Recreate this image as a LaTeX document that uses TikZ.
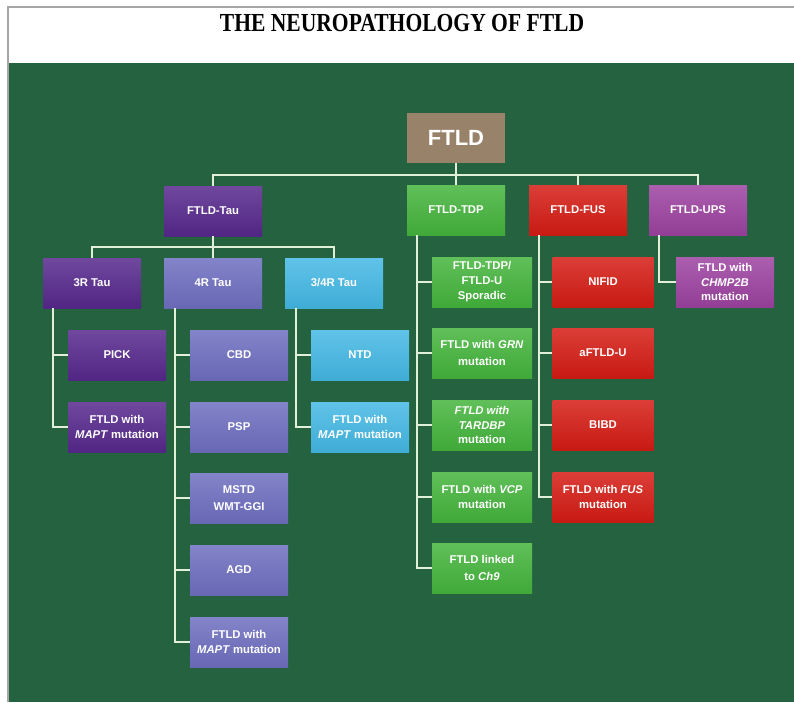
\documentclass[tikz,border=0pt]{standalone}
\usepackage{fontspec}
\setmainfont{Liberation Serif}
\setsansfont{Liberation Sans}
\definecolor{board}{RGB}{36,98,64}
\definecolor{wire}{RGB}{226,240,218}
\definecolor{rootcol}{RGB}{152,130,106}
\definecolor{taucol}{RGB}{86,40,140}
\definecolor{fourcol}{RGB}{110,110,192}
\definecolor{mixcol}{RGB}{68,184,228}
\definecolor{tdpcol}{RGB}{68,180,60}
\definecolor{fuscol}{RGB}{212,28,20}
\definecolor{upscol}{RGB}{156,66,160}
\tikzset{
  box/.style={minimum width=98pt, minimum height=50pt, inner sep=1pt,
    align=center, text=white, font=\sffamily\bfseries\fontsize{11.3}{14.5}\selectfont},
  boxc/.style={box, top color=#1!85!white, bottom color=#1!94!black},
  link/.style={draw=wire, line width=2.2pt}
}
\begin{document}
\begin{tikzpicture}[x=1pt, y=-1pt]
  \useasboundingbox (0,0) rectangle (794,702);
  % Fondo y titulo
  \fill[white] (0,0) rectangle (794,702);
  \fill[board] (8,63) rectangle (794,702);
  \draw[gray!70, line width=1.5pt] (8,702) -- (8,7) -- (794,7);
  \node[font=\rmfamily\bfseries\fontsize{26}{28}\selectfont, xscale=0.83] (title)
    at (402,23) {THE NEUROPATHOLOGY OF FTLD};

  % Raiz
  \node[box, fill=rootcol,
    font=\sffamily\bfseries\fontsize{22}{24}\selectfont] (ftld) at (456,138) {FTLD};

  % Nivel 2
  \node[boxc=taucol] (tau) at (213,211) {FTLD-Tau};
  \node[boxc=tdpcol] (tdp) at (456,210) {FTLD-TDP};
  \node[boxc=fuscol] (fus) at (578,210) {FTLD-FUS};
  \node[boxc=upscol] (ups) at (698,210) {FTLD-UPS};

  % Tau
  \node[boxc=taucol] (r3) at (92,283) {3R Tau};
  \node[boxc=fourcol] (r4) at (213,283) {4R Tau};
  \node[boxc=mixcol] (r34) at (334,283) {3/4R Tau};

  \node[boxc=taucol] (pick) at (117,355) {PICK};
  \node[boxc=taucol] (mapta) at (117,427) {FTLD with\\\textit{MAPT} mutation};

  \node[boxc=fourcol] (cbd) at (239,355) {CBD};
  \node[boxc=fourcol] (psp) at (239,427) {PSP};
  \node[boxc=fourcol] (mstd) at (239,498) {MSTD\\[2pt]WMT-GGI};
  \node[boxc=fourcol] (agd) at (239,570) {AGD};
  \node[boxc=fourcol] (maptb) at (239,642) {FTLD with\\\textit{MAPT} mutation};

  \node[boxc=mixcol] (ntd) at (360,355) {NTD};
  \node[boxc=mixcol] (maptc) at (360,427) {FTLD with\\\textit{MAPT} mutation};

  % TDP
  \node[boxc=tdpcol, minimum width=100pt] (spor) at (482,282) {FTLD-TDP/\\FTLD-U\\[1pt]Sporadic};
  \node[boxc=tdpcol, minimum width=100pt] (grn) at (482,353) {FTLD with \textit{GRN}\\[2pt]mutation};
  \node[boxc=tdpcol, minimum width=100pt] (tardbp) at (482,425) {\textit{FTLD with}\\\textit{TARDBP}\\mutation};
  \node[boxc=tdpcol, minimum width=100pt] (vcp) at (482,497) {FTLD with \textit{VCP}\\mutation};
  \node[boxc=tdpcol, minimum width=100pt] (chn) at (482,568) {FTLD linked\\[2pt]to \textit{Ch9}};

  % FUS
  \node[boxc=fuscol, minimum width=101pt] (nifid) at (603,282) {NIFID};
  \node[boxc=fuscol, minimum width=101pt] (aftld) at (603,353) {aFTLD-U};
  \node[boxc=fuscol, minimum width=101pt] (bibd) at (603,425) {BIBD};
  \node[boxc=fuscol, minimum width=101pt] (fusm) at (603,497) {FTLD with \textit{FUS}\\mutation};

  % UPS
  \node[boxc=upscol] (chmp) at (725,282) {FTLD with\\\textit{CHMP2B}\\mutation};

  % Conectores
  \coordinate (busa) at (0,175);
  \coordinate (busb) at (0,247);
  \draw[link] (ftld.south) -- (ftld.south |- busa);
  \draw[link] (tau.north) -- (tau.north |- busa) -- (ups.north |- busa) -- (ups.north);
  \draw[link] (tdp.north) -- (tdp.north |- busa);
  \draw[link] (fus.north) -- (fus.north |- busa);

  \draw[link] (tau.south) -- (tau.south |- busb);
  \draw[link] (r3.north) -- (r3.north |- busb) -- (r34.north |- busb) -- (r34.north);
  \draw[link] (r4.north) -- (r4.north |- busb);

  \coordinate (sa) at ([xshift=10pt]r3.south west);
  \draw[link] (sa) |- (mapta.west);
  \draw[link] (sa |- pick.west) -- (pick.west);

  \coordinate (sb) at ([xshift=11pt]r4.south west);
  \draw[link] (sb) |- (maptb.west);
  \foreach \n in {cbd,psp,mstd,agd}
    \draw[link] (sb |- \n.west) -- (\n.west);

  \coordinate (sc) at ([xshift=11pt]r34.south west);
  \draw[link] (sc) |- (maptc.west);
  \draw[link] (sc |- ntd.west) -- (ntd.west);

  \coordinate (sd) at ([xshift=10pt]tdp.south west);
  \draw[link] (sd) |- (chn.west);
  \foreach \n in {spor,grn,tardbp,vcp}
    \draw[link] (sd |- \n.west) -- (\n.west);

  \coordinate (se) at ([xshift=10pt]fus.south west);
  \draw[link] (se) |- (fusm.west);
  \foreach \n in {nifid,aftld,bibd}
    \draw[link] (se |- \n.west) -- (\n.west);

  \coordinate (sf) at ([xshift=10pt]ups.south west);
  \draw[link] (sf) |- (chmp.west);
\end{tikzpicture}
\end{document}
